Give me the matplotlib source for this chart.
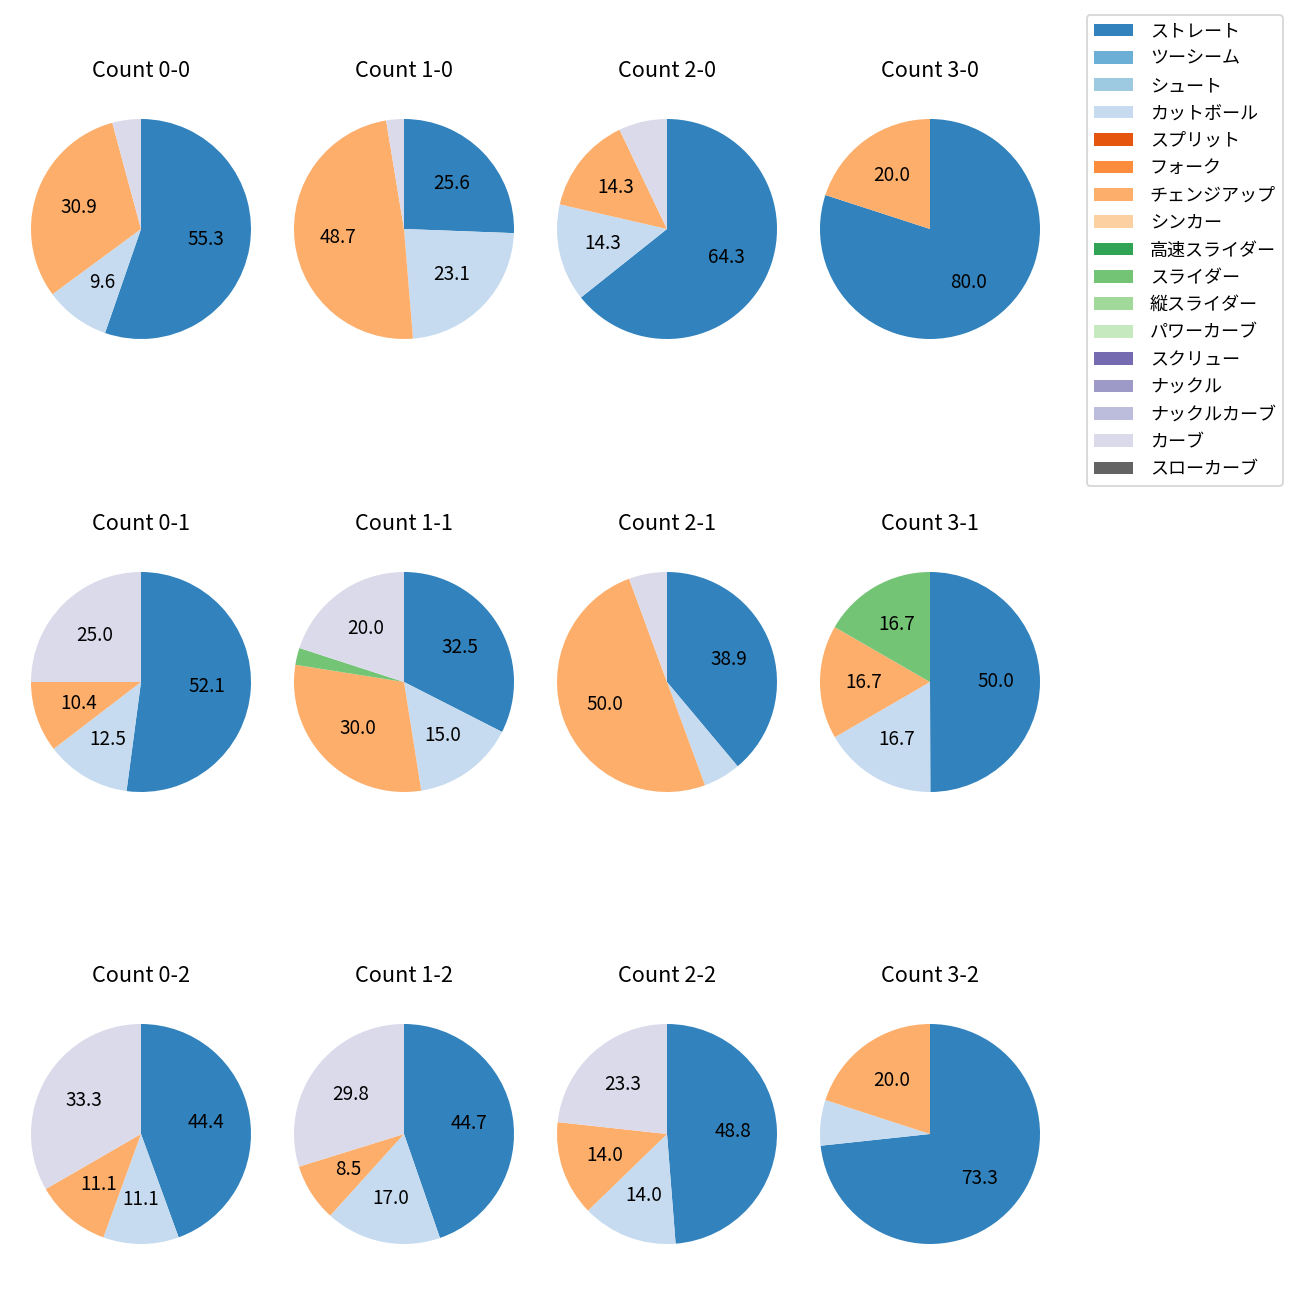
import matplotlib
matplotlib.use("Agg")
import matplotlib.pyplot as plt
from matplotlib.patches import Patch
import numpy as np

plt.rcParams['font.family'] = ['Noto Sans CJK JP', 'DejaVu Sans']

pitch_types = ["ストレート", "ツーシーム", "シュート", "カットボール", "スプリット", "フォーク",
               "チェンジアップ", "シンカー", "高速スライダー", "スライダー", "縦スライダー",
               "パワーカーブ", "スクリュー", "ナックル", "ナックルカーブ", "カーブ", "スローカーブ"]

# 各カウントの球種割合 (%)  順番は pitch_types と同じ
count_0_0 = [55.3, 0, 0, 9.6, 0, 0, 30.9, 0, 0, 0, 0, 0, 0, 0, 0, 4.2, 0]
count_1_0 = [25.6, 0, 0, 23.1, 0, 0, 48.7, 0, 0, 0, 0, 0, 0, 0, 0, 2.6, 0]
count_2_0 = [64.3, 0, 0, 14.3, 0, 0, 14.3, 0, 0, 0, 0, 0, 0, 0, 0, 7.1, 0]
count_3_0 = [80.0, 0, 0, 0, 0, 0, 20.0, 0, 0, 0, 0, 0, 0, 0, 0, 0, 0]
count_0_1 = [52.1, 0, 0, 12.5, 0, 0, 10.4, 0, 0, 0, 0, 0, 0, 0, 0, 25.0, 0]
count_1_1 = [32.5, 0, 0, 15.0, 0, 0, 30.0, 0, 0, 2.5, 0, 0, 0, 0, 0, 20.0, 0]
count_2_1 = [38.9, 0, 0, 5.5, 0, 0, 50.0, 0, 0, 0, 0, 0, 0, 0, 0, 5.6, 0]
count_3_1 = [50.0, 0, 0, 16.7, 0, 0, 16.7, 0, 0, 16.7, 0, 0, 0, 0, 0, 0, 0]
count_0_2 = [44.4, 0, 0, 11.1, 0, 0, 11.1, 0, 0, 0, 0, 0, 0, 0, 0, 33.3, 0]
count_1_2 = [44.7, 0, 0, 17.0, 0, 0, 8.5, 0, 0, 0, 0, 0, 0, 0, 0, 29.8, 0]
count_2_2 = [48.8, 0, 0, 14.0, 0, 0, 14.0, 0, 0, 0, 0, 0, 0, 0, 0, 23.3, 0]
count_3_2 = [73.3, 0, 0, 6.7, 0, 0, 20.0, 0, 0, 0, 0, 0, 0, 0, 0, 0, 0]

grid = [
    [("Count 0-0", count_0_0), ("Count 1-0", count_1_0), ("Count 2-0", count_2_0), ("Count 3-0", count_3_0)],
    [("Count 0-1", count_0_1), ("Count 1-1", count_1_1), ("Count 2-1", count_2_1), ("Count 3-1", count_3_1)],
    [("Count 0-2", count_0_2), ("Count 1-2", count_1_2), ("Count 2-2", count_2_2), ("Count 3-2", count_3_2)],
]

colors = [plt.cm.tab20c(i) for i in range(len(pitch_types))]

W = 1300
fig = plt.figure(figsize=(10, 10), dpi=130)

col_x = [141, 404, 667, 930]
row_y = [229, 682, 1134]
size = 275

for r, row in enumerate(grid):
    for c, (title, vals) in enumerate(row):
        cx, cy = col_x[c], row_y[r]
        ax = fig.add_axes([(cx - size / 2) / W, 1 - (cy + size / 2) / W, size / W, size / W])
        vals = np.array(vals, dtype=float)
        keep = vals > 0
        ax.pie(vals[keep], colors=[col for col, k in zip(colors, keep) if k],
               startangle=90, counterclock=False,
               autopct=lambda p: f"{p:.1f}" if p >= 8 else "",
               textprops={"fontsize": 10.5})
        ax.set_title(title, pad=8)

handles = [Patch(facecolor=col, label=name) for col, name in zip(colors, pitch_types)]
fig.legend(handles=handles, loc="upper right", bbox_to_anchor=(1283 / W, 1 - 15 / W),
           borderaxespad=0, fontsize=10, handlelength=2.15, handletextpad=0.95,
           labelspacing=0.52)

fig.savefig("out.png", dpi=130)
